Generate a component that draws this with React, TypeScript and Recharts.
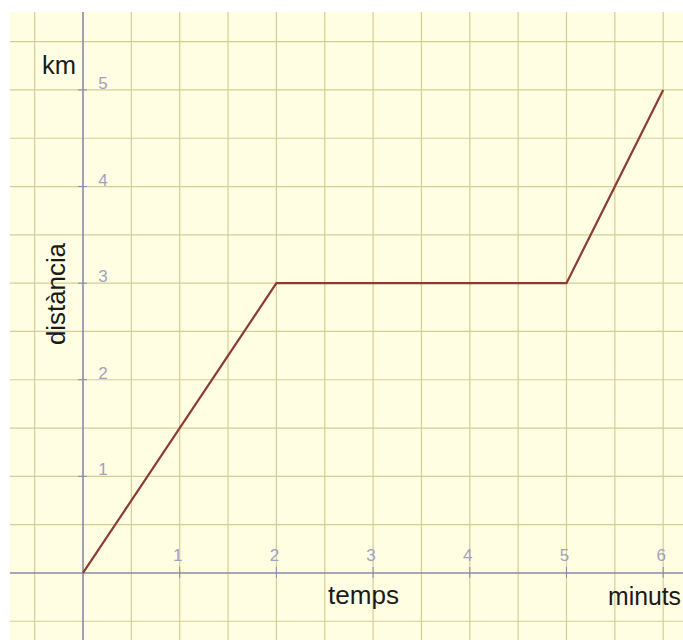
import React from "react";
import {
  ComposedChart,
  Line,
  XAxis,
  YAxis,
  ReferenceLine,
  ReferenceArea,
  ReferenceDot,
} from "recharts";

const times = [0, 2, 5, 6];
const distances = [0, 3, 3, 5];
const data = times.map((t, i) => ({ temps: t, dist: distances[i] }));

const xTicks = [1, 2, 3, 4, 5, 6];
const yTicks = [1, 2, 3, 4, 5];
const xGrid = [-0.5, 0.5, 1, 1.5, 2, 2.5, 3, 3.5, 4, 4.5, 5, 5.5, 6];
const yGrid = [-0.5, 0.5, 1, 1.5, 2, 2.5, 3, 3.5, 4, 4.5, 5, 5.5];

const X_DOMAIN: [number, number] = [-0.755, 6.205];
const Y_DOMAIN: [number, number] = [-0.694, 5.807];

const BG = "#fffee2";
const GRID = "#d6cd96";
const AXIS = "#8a8aaa";
const TICK_TEXT = "#a2a2be";
const LINE = "#8c3a34";
const FONT = "Arial, 'Liberation Sans', sans-serif";

const XTickShape = (props: any) => {
  const { cx, cy, label } = props;
  return (
    <g>
      <line x1={cx} y1={cy - 6} x2={cx} y2={cy + 5} stroke={AXIS} strokeWidth={1} />
      <text
        x={cx - 2}
        y={cy - 12}
        fill={TICK_TEXT}
        fontSize={17}
        fontFamily={FONT}
        textAnchor="middle"
      >
        {label}
      </text>
    </g>
  );
};

const YTickShape = (props: any) => {
  const { cx, cy, label } = props;
  return (
    <g>
      <line x1={cx - 5} y1={cy} x2={cx + 4} y2={cy} stroke={AXIS} strokeWidth={1} />
      <text
        x={cx + 20}
        y={cy - 1}
        fill={TICK_TEXT}
        fontSize={17}
        fontFamily={FONT}
        textAnchor="middle"
      >
        {label}
      </text>
    </g>
  );
};

export default function App() {
  return (
    <div style={{ position: "relative", width: 683, height: 640, overflow: "hidden", background: "#fff" }}>
      <style>{"html,body{margin:0;padding:0;overflow:hidden;}"}</style>
      <ComposedChart
        width={683}
        height={640}
        data={data}
        margin={{ top: 12, left: 10, right: 0, bottom: 0 }}
      >
        <XAxis
          dataKey="temps"
          type="number"
          domain={X_DOMAIN}
          allowDataOverflow
          hide
        />
        <YAxis type="number" domain={Y_DOMAIN} allowDataOverflow hide />
        <ReferenceArea
          x1={X_DOMAIN[0]}
          x2={X_DOMAIN[1]}
          y1={Y_DOMAIN[0]}
          y2={Y_DOMAIN[1]}
          fill={BG}
          fillOpacity={1}
          stroke="none"
          ifOverflow="visible"
        />
        {xGrid.map((v) => (
          <ReferenceLine key={"gx" + v} x={v} stroke={GRID} strokeWidth={1.2} />
        ))}
        {yGrid.map((v) => (
          <ReferenceLine key={"gy" + v} y={v} stroke={GRID} strokeWidth={1.2} />
        ))}
        <ReferenceLine x={0} stroke={AXIS} strokeWidth={1.6} />
        <ReferenceLine y={0} stroke={AXIS} strokeWidth={1.6} />
        {xTicks.map((v) => (
          <ReferenceDot
            key={"tx" + v}
            x={v}
            y={0}
            r={0}
            shape={(p: any) => <XTickShape {...p} label={String(v)} />}
          />
        ))}
        {yTicks.map((v) => (
          <ReferenceDot
            key={"ty" + v}
            x={0}
            y={v}
            r={0}
            shape={(p: any) => <YTickShape {...p} label={String(v)} />}
          />
        ))}
        <Line
          type="linear"
          dataKey="dist"
          stroke={LINE}
          strokeWidth={2.2}
          dot={false}
          activeDot={false}
          isAnimationActive={false}
        />
      </ComposedChart>
      <svg
        width={683}
        height={640}
        style={{ position: "absolute", left: 0, top: 0, pointerEvents: "none" }}
      >
        <g fontFamily={FONT} fill="#1a1a1a" fontSize={25}>
          <text x={42} y={74} textLength={34} lengthAdjust="spacingAndGlyphs">km</text>
          <text x={328} y={604} textLength={71} lengthAdjust="spacingAndGlyphs">temps</text>
          <text x={608} y={605} textLength={73} lengthAdjust="spacingAndGlyphs">minuts</text>
          <text
            x={0}
            y={0}
            transform="translate(65,345) rotate(-90)"
            textLength={102}
            lengthAdjust="spacingAndGlyphs"
          >
            distància
          </text>
        </g>
      </svg>
    </div>
  );
}
